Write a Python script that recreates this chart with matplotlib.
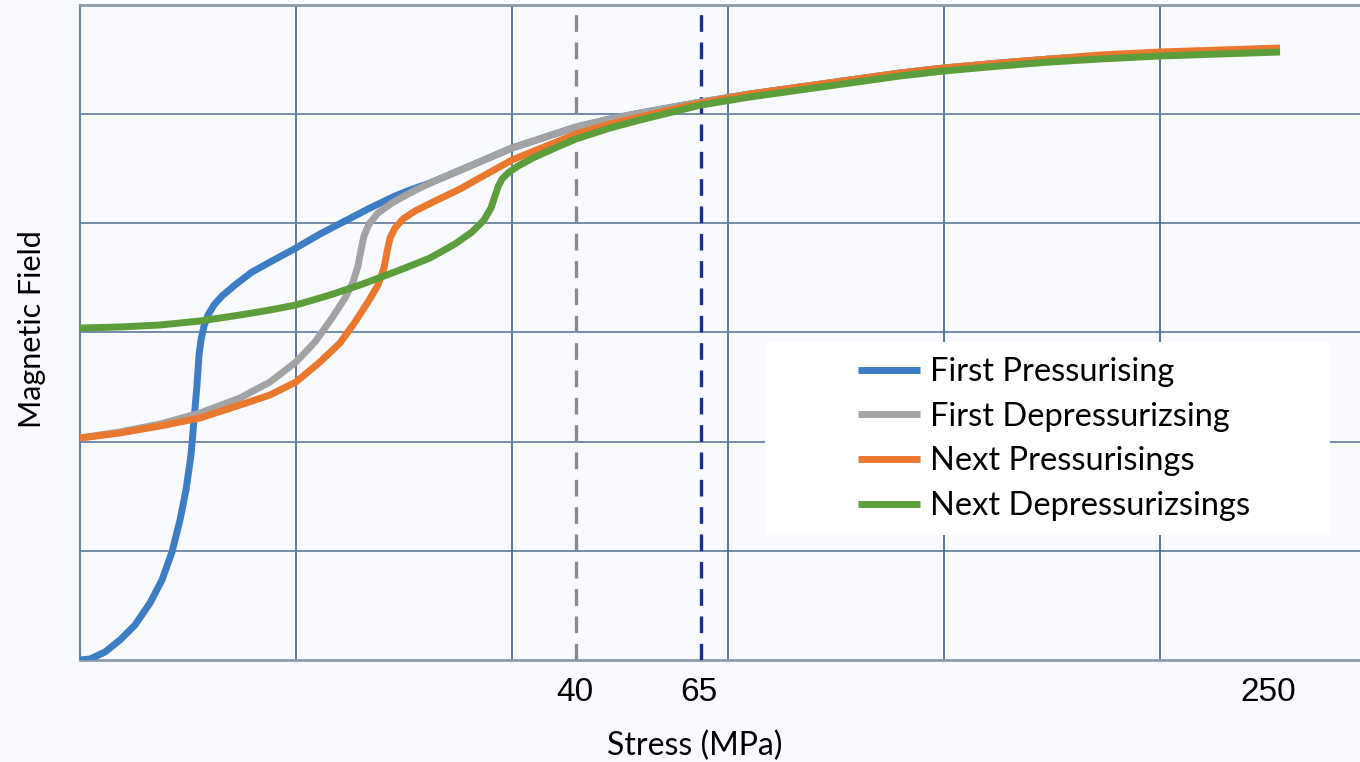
import numpy as np
import matplotlib
matplotlib.use('Agg')
import matplotlib.pyplot as plt
from matplotlib.patches import Rectangle

# chart units (x: stress position, y: magnetic field level)
tail_x = [350, 390, 432, 496, 530, 560, 621, 670, 720, 770, 820, 864, 920, 970, 1020, 1080, 1140, 1200]
tail_y = [477, 494, 512, 533, 541, 547, 558, 566, 573, 580, 587, 592, 597, 601, 604, 607, 609, 610]

first_press_x = [0, 10, 25, 40, 55, 70, 82, 92, 100, 106, 111, 114, 117, 119, 121, 124, 128, 134, 142, 155,
                 172, 192, 216, 240, 265, 290, 315, 330] + tail_x
first_press_y = [0, 1, 8, 20, 35, 57, 80, 108, 140, 170, 205, 240, 275, 305, 320, 334, 345, 355, 364, 375,
                 388, 399, 412, 426, 439, 452, 464, 470] + tail_y

first_depress_x = [0, 40, 80, 120, 160, 190, 216, 235, 252, 265, 273, 278, 281, 284, 289, 298, 312, 330] + tail_x
first_depress_y = [222, 228, 236, 247, 262, 278, 298, 318, 342, 362, 378, 394, 410, 424, 436, 447, 457, 467] + tail_y

next_press_x = [0, 40, 80, 120, 160, 190, 216, 240, 260, 275, 288, 298, 304, 307, 310, 315, 323, 335, 355, 380,
                405, 432, 496, 530, 560, 621, 670, 720, 770, 820, 864, 920, 970, 1020, 1080, 1140, 1200]
next_press_y = [222, 227, 234, 242, 255, 265, 278, 298, 317, 338, 358, 375, 392, 408, 422, 432, 441, 449, 459, 471,
                485, 500, 526, 536, 543, 557, 566, 573, 580, 587, 592, 597, 601, 605, 608, 610, 612]

next_depress_x = [0, 40, 80, 120, 160, 190, 216, 250, 280, 320, 350, 375, 392, 404, 411, 415, 418, 422, 428, 438,
                  455, 475, 496, 530, 560, 621, 670, 720, 770, 820, 864, 920, 970, 1020, 1080, 1140, 1200]
next_depress_y = [332, 333, 335, 339, 345, 350, 355, 365, 375, 390, 402, 416, 428, 440, 452, 464, 473, 481, 487, 494,
                  503, 512, 521, 532, 540, 555, 563, 570, 577, 584, 589, 594, 598, 601, 604, 606, 608]

series = [
    ('First Pressurising', first_press_x, first_press_y, '#3d7dc3'),
    ('First Depressurizsing', first_depress_x, first_depress_y, '#a3a3a3'),
    ('Next Pressurisings', next_press_x, next_press_y, '#e9772e'),
    ('Next Depressurizsings', next_depress_x, next_depress_y, '#5c9d3c'),
]

stress_ticks = [495, 619, 1188]
stress_labels = ['40', '65', '250']
marker_lines = [(496, '#8a8a8a'), (621, '#1c2b8c')]

bg = '#f8fafd'
fig = plt.figure(figsize=(13.6, 7.62), dpi=100, facecolor=bg)
ax = fig.add_axes([80 / 1360, 1 - 660 / 762, 1280 / 1360, 655 / 762])
ax.set_facecolor(bg)
ax.set_xlim(0, 1280)
ax.set_ylim(0, 655)

for k in range(1, 6):
    ax.axvline(216 * k, color='#4f6a92', lw=1.3, zorder=1)
    ax.axhline(109.2 * k, color='#6a82a4', lw=1.3, zorder=1)

for sp in ['top', 'bottom']:
    ax.spines[sp].set_color('#8e9bab')
    ax.spines[sp].set_linewidth(2)
ax.spines['left'].set_color('#6a82a4')
ax.spines['left'].set_linewidth(1.5)
ax.spines['right'].set_visible(False)

# white box behind the legend
ax.add_patch(Rectangle((685, 125), 565, 193, facecolor='white', edgecolor='none', zorder=2))

for xv, c in marker_lines:
    ax.plot([xv, xv], [0, 648], color=c, lw=2.4, dashes=(5, 3.2), zorder=3)

for name, xs, ys, c in series:
    ax.plot(xs, ys, color=c, lw=5, label=name, solid_capstyle='butt', solid_joinstyle='round', zorder=4)

ax.set_xticks(stress_ticks)
ax.set_xticklabels(stress_labels, family='Liberation Sans', fontsize=24)
ax.set_yticks([])
ax.tick_params(axis='x', length=0, pad=12)

ax.set_xlabel('Stress (MPa)', family='Lato', fontsize=23)
ax.xaxis.set_label_coords((695 - 80) / 1280, -(731 - 660) / 655)
ax.set_ylabel('Magnetic Field', family='Lato', fontsize=22)
ax.yaxis.set_label_coords(-(80 - 46) / 1280, (660 - 329) / 655)

leg = ax.legend(loc='upper left', bbox_to_anchor=(845 - 80, 660 - 344), bbox_transform=ax.transData,
                frameon=False, prop={'family': 'Lato', 'size': 23.5}, handlelength=1.9, handletextpad=0.3,
                labelspacing=0.45, borderaxespad=0)
leg.set_zorder(5)

fig.savefig('out.png', dpi=100, facecolor=bg)
